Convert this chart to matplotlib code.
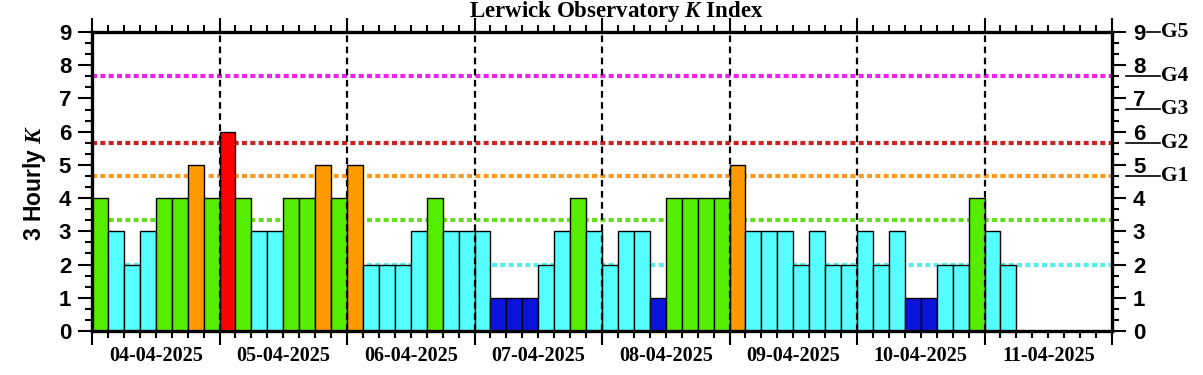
import matplotlib.pyplot as plt
import matplotlib.transforms as mtransforms
import numpy as np

# 3-hourly K values, 8 per day
days = ["04-04-2025", "05-04-2025", "06-04-2025", "07-04-2025",
        "08-04-2025", "09-04-2025", "10-04-2025", "11-04-2025"]
k_0404 = [4, 3, 2, 3, 4, 4, 5, 4]
k_0504 = [6, 4, 3, 3, 4, 4, 5, 4]
k_0604 = [5, 2, 2, 2, 3, 4, 3, 3]
k_0704 = [3, 1, 1, 1, 2, 3, 4, 3]
k_0804 = [2, 3, 3, 1, 4, 4, 4, 4]
k_0904 = [5, 3, 3, 3, 2, 3, 2, 2]
k_1004 = [3, 2, 3, 1, 1, 2, 2, 4]
k_1104 = [3, 2]

# threshold lines and storm levels
thresh_vals = [2.0, 3.33, 4.67, 5.67, 7.67]
thresh_cols = ["#55eeee", "#66dd22", "#ff9922", "#cc2222", "#ee22ee"]
g_levels = [4.67, 5.67, 6.67, 7.67]
g_names = ["G1", "G2", "G3", "G4"]

kvals = k_0404 + k_0504 + k_0604 + k_0704 + k_0804 + k_0904 + k_1004 + k_1104


def kcolor(k):
    if k <= 1:
        return "#0a14dc"
    if k <= 3:
        return "#55ffff"
    if k == 4:
        return "#55ee00"
    if k == 5:
        return "#ff9900"
    return "#ff0000"


plt.rcParams['mathtext.fontset'] = 'custom'
plt.rcParams['mathtext.it'] = 'Liberation Serif:italic:bold'

fig = plt.figure(figsize=(12.03, 3.75), dpi=100)
ax = fig.add_axes([92 / 1203, 44 / 375, 1020 / 1203, 299 / 375])

x = np.arange(len(kvals)) * 0.125
ax.bar(x, kvals, width=0.125, align='edge', color=[kcolor(k) for k in kvals],
       edgecolor='black', linewidth=1.0, zorder=3)

for v, c in zip(thresh_vals, thresh_cols):
    ax.axhline(v, color=c, lw=3, linestyle=(0, (1.2, 0.8)), zorder=2)

for d in range(1, 8):
    ax.axvline(d, color='black', lw=1.6, linestyle=(0, (3, 2)), zorder=4)

ax.set_xlim(0, 8)
ax.set_ylim(0, 9)
ax.set_yticks(range(10))
ax.set_yticks(np.arange(0, 9.01, 1 / 3), minor=True)
ax.set_xticks(range(9))
ax.set_xticks(np.arange(0, 8.01, 0.125), minor=True)
ax.set_xticklabels([])

for s in ax.spines.values():
    s.set_linewidth(2.4)
    s.set_zorder(5)

ax.tick_params(axis='y', which='both', left=True, right=True, labelleft=True,
               labelright=True, direction='out', width=1.5)
ax.tick_params(axis='y', which='major', length=10, pad=5)
ax.tick_params(axis='y', which='minor', length=5)
ax.tick_params(axis='x', which='both', top=True, bottom=True, direction='out', width=1.5)
ax.tick_params(axis='x', which='major', length=10)
ax.tick_params(axis='x', which='minor', length=5)
for lab in ax.get_yticklabels():
    lab.set_fontfamily('Liberation Sans')
    lab.set_fontweight('bold')
    lab.set_fontsize(16)

trans = ax.get_xaxis_transform()
for i, d in enumerate(days):
    ax.text(i + 0.5, -0.085, d, transform=trans, ha='center', va='center',
            family='Liberation Serif', fontweight='bold', fontsize=14.5)

# storm level markers on the right
ytrans = mtransforms.blended_transform_factory(ax.transAxes, ax.transData)
for v, g in zip(g_levels, g_names):
    ax.plot([1.0137, 1.047], [v, v], color='black', lw=1.2, transform=ytrans, clip_on=False)
    ax.text(1.048, v, g, transform=ytrans, ha='left', va='center',
            family='Liberation Serif', fontweight='bold', fontsize=15.5)
ax.plot([1.034, 1.047], [9, 9], color='black', lw=1.2, transform=ytrans, clip_on=False)
ax.text(1.048, 9, "G5", transform=ytrans, ha='left', va='center',
        family='Liberation Serif', fontweight='bold', fontsize=15.5)

fig.text(616 / 1203, 1 - 12 / 375, r"Lerwick Observatory $K$ Index", ha='center', va='center',
         family='Liberation Serif', fontweight='bold', fontsize=16.5)
fig.text(34 / 1203, 1 - 183 / 375, r"3 Hourly $K$", rotation=90, ha='center', va='center',
         family='Liberation Sans', fontweight='bold', fontsize=16.5)

fig.savefig("out.png", dpi=100)
